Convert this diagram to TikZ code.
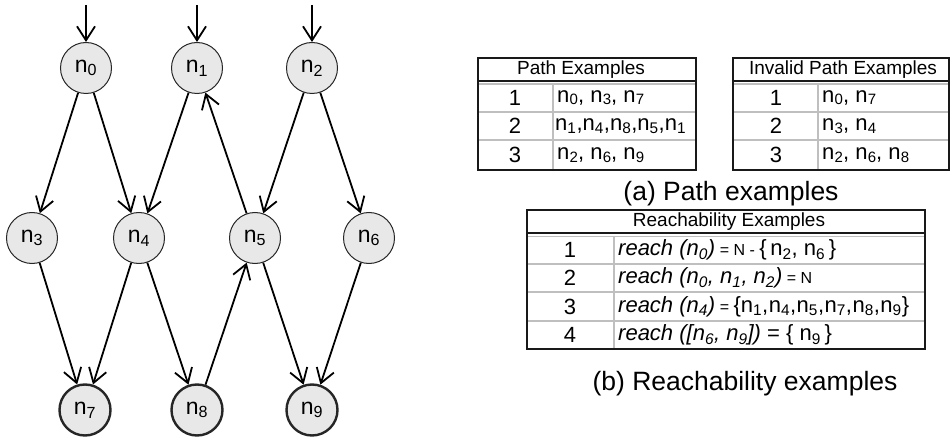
\documentclass[tikz,border=0pt]{standalone}
\usepackage{fontspec}
\setmainfont{Liberation Sans}
\usetikzlibrary{arrows.meta}
\newcommand{\nn}[1]{n\textsubscript{#1}}
\newcommand{\nb}[1]{n\kern0.3pt\raisebox{-0.22ex}{\fontsize{15}{18}\selectfont #1}}
\newcommand{\smalleq}[1]{{\fontsize{16}{18}\selectfont\upshape #1}}
\tikzset{
  edge/.style={draw,line width=1.8pt,-{Straight Barb[length=14pt,width=18pt,line width=1.8pt]}}
}
\begin{document}
\begin{tikzpicture}[x=1pt,y=-1pt]
        \tikzstyle{state}=[circle,draw=black!85,fill=black!9,line width=1pt,minimum size=51pt,inner sep=0pt,font=\fontsize{23}{27}\selectfont]
        \tikzstyle{final}=[state,line width=2.4pt]
        \tikzstyle{outer}=[draw=black!90,line width=1.6pt]
        \tikzstyle{inner}=[draw=black!25,line width=1.4pt]
        \tikzstyle{head}=[font=\fontsize{19}{22}\selectfont]
        \tikzstyle{cell}=[font=\fontsize{22}{25}\selectfont,inner sep=0pt]
        \tikzstyle{caption}=[font=\fontsize{26.5}{30}\selectfont]
        \useasboundingbox (0,0) rectangle (952,438);
       \begin{scope}
         % graph
         \node [state] (n0) at (86,68) {\nn{0}};
         \node [state] (n1) at (197,68) {\nn{1}};
         \node [state] (n2) at (312,68) {\nn{2}};
         \node [state] (n3) at (32,238) {\nn{3}};
         \node [state] (n4) at (139,238) {\nn{4}};
         \node [state] (n5) at (255,238) {\nn{5}};
         \node [state] (n6) at (369,238) {\nn{6}};
         \node [final] (n7) at (85,410) {\nn{7}};
         \node [final] (n8) at (197,410) {\nn{8}};
         \node [final] (n9) at (312,410) {\nn{9}};
         \coordinate (in0) at (86,5);
         \coordinate (in1) at (197,5);
         \coordinate (in2) at (312,5);
         \draw[edge] (in0) -- (n0);
         \draw[edge] (in1) -- (n1);
         \draw[edge] (in2) -- (n2);
         \draw[edge] (n0) -- (n3);
         \draw[edge] (n0) -- (n4);
         \draw[edge] (n1) -- (n4);
         \draw[edge] (n5) -- (n1);
         \draw[edge] (n2) -- (n5);
         \draw[edge] (n2) -- (n6);
         \draw[edge] (n3) -- (n7);
         \draw[edge] (n4) -- (n7);
         \draw[edge] (n4) -- (n8);
         \draw[edge] (n8) -- (n5);
         \draw[edge] (n5) -- (n9);
         \draw[edge] (n6) -- (n9);
        \end{scope}
       \begin{scope}
         % path examples
         \draw[inner] (478,112) -- (696,112) (478,140) -- (696,140) (553,83) -- (553,170);
         \draw[inner] (478,84) -- (696,84);
         \draw[outer] (478,81) -- (696,81);
         \draw[outer] (478,58) rectangle (696,170);
         \node [head] (ph) at (581,70) {Path Examples};
         \node [cell] (pn1) at (515,97.5) {1};
         \node [cell] (pn2) at (515,126) {2};
         \node [cell] (pn3) at (515,155) {3};
         \node [cell,anchor=west] (pt1) at (557,97.5) {\nb{0}, \nb{3}, \nb{7}};
         \node [cell,anchor=west] (pt2) at (555,126) {\nn{1},\nn{4},\nn{8},\nn{5},\nn{1}};
         \node [cell,anchor=west] (pt3) at (557,155) {\nb{2}, \nb{6}, \nb{9}};
         % invalid path examples
         \draw[inner] (733,112) -- (949,112) (733,140) -- (949,140) (818,83) -- (818,170);
         \draw[inner] (733,84) -- (949,84);
         \draw[outer] (733,81) -- (949,81);
         \draw[outer] (733,58) rectangle (949,170);
         \node [head] (ih) at (843,70) {Invalid Path Examples};
         \node [cell] (in1) at (776,97.5) {1};
         \node [cell] (in2) at (776,126) {2};
         \node [cell] (in3) at (776,155) {3};
         \node [cell,anchor=west] (it1) at (822,97.5) {\nb{0}, \nb{7}};
         \node [cell,anchor=west] (it2) at (822,126) {\nb{3}, \nb{4}};
         \node [cell,anchor=west] (it3) at (822,155) {\nb{2}, \nb{6}, \nb{8}};
         \node [caption] (capa) at (731,194) {(a) Path examples};
        \end{scope}
       \begin{scope}
         % reachability examples
         \draw[inner] (527,264) -- (925,264) (527,292) -- (925,292) (527,321) -- (925,321) (614,236) -- (614,349);
         \draw[inner] (527,236.5) -- (925,236.5);
         \draw[outer] (527,233) -- (925,233);
         \draw[outer] (527,210) rectangle (925,349);
         \node [head] (rh) at (729,221.5) {Reachability Examples};
         \node [cell] (rn1) at (570,250) {1};
         \node [cell] (rn2) at (570,278) {2};
         \node [cell] (rn3) at (570,306.5) {3};
         \node [cell] (rn4) at (570,335) {4};
         \node [cell,anchor=west] (rt1) at (618,250) {\itshape reach (\nn{0})\smalleq{ = N - }\upshape\{\,\nn{2}, \nn{6}\,\}};
         \node [cell,anchor=west] (rt2) at (618,278) {\itshape reach (\nn{0}, \nn{1}, \nn{2})\smalleq{ = N}};
         \node [cell,anchor=west] (rt3) at (618,306.5) {\itshape reach (\nn{4})\smalleq{ = }\upshape\{\nn{1},\kern0.5pt\nn{4},\kern0.5pt\nn{5},\kern0.5pt\nn{7},\kern0.5pt\nn{8},\kern0.5pt\nn{9}\}};
         \node [cell,anchor=west] (rt4) at (618,335) {\itshape reach ([\nn{6}, \nn{9}])\upshape{} = \{ \nn{9}\,\}};
         \node [caption] (capb) at (745,384) {(b) Reachability examples};
        \end{scope}
      \end{tikzpicture}
\end{document}
